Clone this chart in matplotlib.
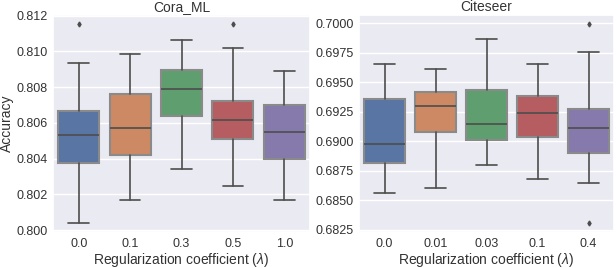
import matplotlib
matplotlib.use("Agg")
import matplotlib.pyplot as plt
import seaborn as sns

# --- 数据 ---
cora_labels = ['0.0', '0.1', '0.3', '0.5', '1.0']
cora_whislo = [0.80041, 0.80168, 0.80342, 0.80249, 0.80168]
cora_q1 = [0.80374, 0.80422, 0.80641, 0.80512, 0.80400]
cora_med = [0.80533, 0.80572, 0.80789, 0.80617, 0.80551]
cora_q3 = [0.80664, 0.80761, 0.80895, 0.80721, 0.80701]
cora_whishi = [0.80935, 0.80985, 0.81062, 0.81022, 0.80893]
cora_fliers = [[0.81151], [], [], [0.81151], []]

cite_labels = ['0.0', '0.01', '0.03', '0.1', '0.4']
cite_whislo = [0.68565, 0.68607, 0.68801, 0.68679, 0.68650]
cite_q1 = [0.68818, 0.69076, 0.69008, 0.69040, 0.68898]
cite_med = [0.68980, 0.69298, 0.69150, 0.69239, 0.69110]
cite_q3 = [0.69360, 0.69419, 0.69439, 0.69388, 0.69278]
cite_whishi = [0.69651, 0.69610, 0.69871, 0.69651, 0.69758]
cite_fliers = [[], [], [], [], [0.69990, 0.68312]]

box_colors = ['#5975a4', '#cc8963', '#5f9e6e', '#b55d60', '#857aab']

sns.set_theme(style='darkgrid')
plt.rcParams['font.family'] = ['Liberation Sans', 'DejaVu Sans']
plt.rcParams['mathtext.fontset'] = 'custom'
plt.rcParams['mathtext.rm'] = 'Liberation Sans'
plt.rcParams['mathtext.it'] = 'Liberation Sans:italic'

TICK_FS = 9
LABEL_FS = 10
TXT = '#333333'


def make_stats(labels, lo, q1, med, q3, hi, fl):
    stats = []
    for i in range(len(labels)):
        stats.append({'label': labels[i], 'whislo': lo[i], 'q1': q1[i], 'med': med[i],
                      'q3': q3[i], 'whishi': hi[i], 'fliers': fl[i]})
    return stats


def draw(ax, stats, title, ylim, yticks, fmt):
    bp = ax.bxp(stats, positions=range(len(stats)), widths=0.8, patch_artist=True,
                boxprops=dict(edgecolor='#8a8a8a', linewidth=1.5),
                whiskerprops=dict(color='#4d4d4d', linewidth=1.2),
                capprops=dict(color='#4d4d4d', linewidth=1.2),
                medianprops=dict(color='#4d4d4d', linewidth=1.2),
                flierprops=dict(marker='d', markersize=2.5, markerfacecolor='#4d4d4d',
                                markeredgecolor='#4d4d4d'))
    for patch, c in zip(bp['boxes'], box_colors):
        patch.set_facecolor(c)
    # 须线端点宽度与 seaborn 一致
    for cap in bp['caps']:
        x = cap.get_xdata()
        m = (x[0] + x[1]) / 2
        cap.set_xdata([m - 0.2, m + 0.2])
    ax.set_xlim(-0.5, len(stats) - 0.5)
    ax.set_ylim(*ylim)
    ax.set_yticks(yticks)
    ax.set_yticklabels([fmt.format(t) for t in yticks])
    ax.grid(axis='x', visible=False)
    ax.tick_params(axis='both', length=0, labelsize=TICK_FS, labelcolor=TXT)
    ax.tick_params(axis='x', pad=4)
    ax.tick_params(axis='y', pad=4)
    ax.set_title(title, fontsize=LABEL_FS, pad=3, color=TXT)
    ax.set_xlabel(r'Regularization coefficient ($\lambda$)', fontsize=LABEL_FS, labelpad=1, color=TXT)


fig = plt.figure(figsize=(6.16, 2.68), dpi=100)
ax1 = fig.add_axes([53 / 616, 1 - 232 / 268, 257 / 616, 217 / 268])
ax2 = fig.add_axes([359 / 616, 1 - 232 / 268, 255 / 616, 217 / 268])

draw(ax1, make_stats(cora_labels, cora_whislo, cora_q1, cora_med, cora_q3, cora_whishi, cora_fliers),
     'Cora_ML', (0.79989, 0.81204), [0.800, 0.802, 0.804, 0.806, 0.808, 0.810, 0.812], '{:.3f}')
draw(ax2, make_stats(cite_labels, cite_whislo, cite_q1, cite_med, cite_q3, cite_whishi, cite_fliers),
     'Citeseer', (0.68233, 0.70070), [0.6825, 0.6850, 0.6875, 0.6900, 0.6925, 0.6950, 0.6975, 0.7000], '{:.4f}')
ax1.set_ylabel('Accuracy', fontsize=LABEL_FS, color=TXT)
ax1.yaxis.set_label_coords(-0.15, 0.5)

fig.savefig('out.png', dpi=100)
